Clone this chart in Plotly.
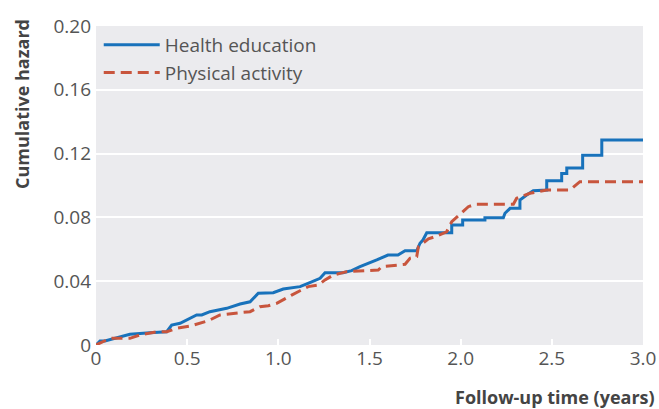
import plotly.graph_objects as go

# Health education (blue, solid)
he_time = [0, 0.022, 0.049, 0.186, 0.296, 0.388, 0.415, 0.461, 0.552, 0.580, 0.625, 0.717, 0.790,
           0.845, 0.890, 0.972, 1.027, 1.119, 1.173, 1.229, 1.256, 1.355, 1.402, 1.448, 1.540,
           1.601, 1.656, 1.695, 1.759, 1.777, 1.793, 1.814, 1.914, 1.951, 1.951, 2.011, 2.011,
           2.133, 2.133, 2.234, 2.243, 2.271, 2.325, 2.325, 2.362, 2.398, 2.472, 2.472, 2.554,
           2.554, 2.582, 2.582, 2.669, 2.669, 2.774, 2.774, 3.0]
he_hazard = [0, 0.0025, 0.0025, 0.0067, 0.0077, 0.0083, 0.0125, 0.0136, 0.0188, 0.0188, 0.0209,
             0.0230, 0.0257, 0.0271, 0.0324, 0.0328, 0.0351, 0.0366, 0.0391, 0.0418, 0.0453,
             0.0453, 0.0466, 0.0491, 0.0533, 0.0564, 0.0564, 0.0591, 0.0591, 0.0638, 0.0658,
             0.0704, 0.0704, 0.0704, 0.0752, 0.0752, 0.0784, 0.0784, 0.0798, 0.0798, 0.0826,
             0.0857, 0.0857, 0.0909, 0.0940, 0.0967, 0.0972, 0.1030, 0.1030, 0.1075, 0.1075,
             0.1110, 0.1110, 0.1190, 0.1190, 0.1285, 0.1285]

# Physical activity (red, dashed)
pa_time = [0, 0.077, 0.186, 0.241, 0.333, 0.388, 0.443, 0.516, 0.616, 0.680, 0.790, 0.845, 0.899,
           0.945, 0.991, 1.037, 1.073, 1.119, 1.164, 1.219, 1.256, 1.302, 1.375, 1.548, 1.567,
           1.695, 1.722, 1.759, 1.768, 1.823, 1.859, 1.923, 1.951, 2.006, 2.042, 2.079, 2.289,
           2.307, 2.380, 2.472, 2.600, 2.654, 3.0]
pa_hazard = [0, 0.0042, 0.0042, 0.0063, 0.0083, 0.0083, 0.0105, 0.0119, 0.0152, 0.0188, 0.0203,
             0.0209, 0.0240, 0.0246, 0.0261, 0.0293, 0.0313, 0.0340, 0.0366, 0.0376, 0.0408,
             0.0439, 0.0460, 0.0470, 0.0491, 0.0506, 0.0544, 0.0554, 0.0616, 0.0665, 0.0679,
             0.0710, 0.0773, 0.0829, 0.0867, 0.0882, 0.0882, 0.0920, 0.0951, 0.0972, 0.0972,
             0.1024, 0.1024]

x_ticks = [0, 0.5, 1.0, 1.5, 2.0, 2.5, 3.0]
x_labels = ["0", "0.5", "1.0", "1.5", "2.0", "2.5", "3.0"]
y_ticks = [0, 0.04, 0.08, 0.12, 0.16, 0.20]
y_labels = ["0", "0.04", "0.08", "0.12", "0.16", "0.20"]

FONT = "Open Sans"
fig = go.Figure()
fig.add_trace(go.Scatter(x=he_time, y=he_hazard, mode="lines", name="Health education",
                         line=dict(color="#1872BB", width=3)))
fig.add_trace(go.Scatter(x=pa_time, y=pa_hazard, mode="lines", name="Physical activity",
                         line=dict(color="#C8553D", width=3, dash="11px,6px")))

fig.update_layout(
    width=659, height=409,
    margin=dict(l=96, r=16, t=26, b=64),
    paper_bgcolor="white", plot_bgcolor="#EBEBEE",
    font=dict(family=FONT, size=19, color="#555555"),
    showlegend=True,
    legend=dict(x=0.005, y=1.0, xanchor="left", yanchor="top", bgcolor="rgba(0,0,0,0)",
                font=dict(size=19, color="#555555"), tracegroupgap=0, itemwidth=56),
    xaxis=dict(range=[0, 3.0], tickvals=x_ticks, ticktext=x_labels, showgrid=False,
               zeroline=False, showline=False, ticks="inside", ticklen=6, tickwidth=2,
               tickcolor="white", tickfont=dict(size=19, color="#555555"), automargin=False),
    yaxis=dict(range=[0, 0.20], tickvals=y_ticks, ticktext=y_labels, showgrid=True,
               gridcolor="white", gridwidth=2, zeroline=False, showline=False, ticks="",
               ticklabelstandoff=4, automargin=False,
               tickfont=dict(size=19, color="#555555")),
    annotations=[
        dict(text="<b>Cumulative hazard</b>", xref="paper", yref="paper",
             x=(22 - 96) / 547, y=(345 - 17) / 319, xanchor="center", yanchor="top",
             textangle=-90, showarrow=False, font=dict(size=18, color="#444444", family=FONT)),
        dict(text="<b>Follow-up time (years)</b>", xref="paper", yref="paper",
             x=(657 - 96) / 547, y=(345 - 397) / 319, xanchor="right", yanchor="middle",
             showarrow=False, font=dict(size=18, color="#444444", family=FONT)),
    ],
)
fig.write_html("out.html", config={"displayModeBar": False},
               post_script="document.body.style.margin='0';document.body.style.overflow='hidden';")
